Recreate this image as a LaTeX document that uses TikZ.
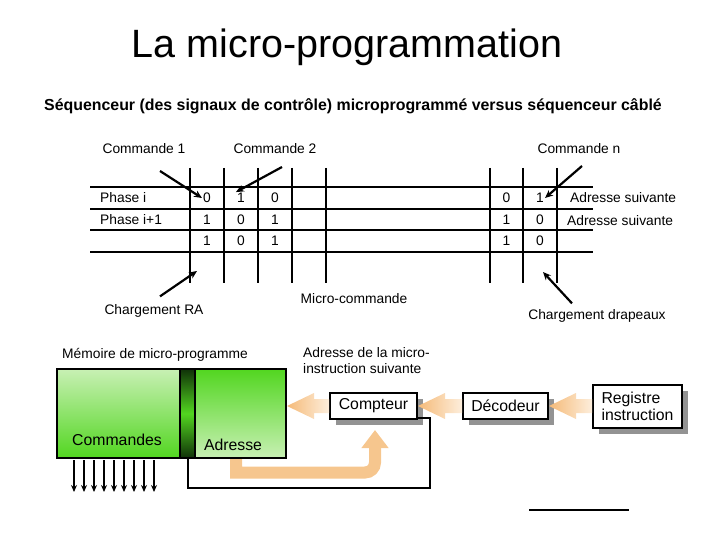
\documentclass[tikz,border=0pt]{standalone}
\usepackage{fontspec}
\setmainfont{Liberation Sans}
\usetikzlibrary{arrows.meta,calc,shadows}

\definecolor{palegreen}{RGB}{200,240,180}
\definecolor{brightgreen}{RGB}{82,214,32}
\definecolor{darkgreen}{RGB}{16,50,8}
\definecolor{arrowhead}{RGB}{245,186,120}
\definecolor{arrowtail}{RGB}{253,238,220}
\definecolor{loopcolor}{RGB}{246,198,142}

\begin{document}
\begin{tikzpicture}[x=1pt,y=-1pt,
	txt/.style={inner sep=1pt,font=\fontsize{13.8}{16}\selectfont},
	cell/.style={inner sep=1pt,font=\fontsize{13.8}{16}\selectfont},
	grid/.style={line width=2pt},
	ptr/.style={line width=2.2pt,-{Stealth[length=8pt,width=7pt]}},
	unitbox/.style={draw,line width=2pt,fill=white,font=\fontsize{15.8}{17}\selectfont,
		drop shadow={shadow xshift=6pt,shadow yshift=-6pt,fill=gray!85,opacity=1}},
	memblock/.style={draw,line width=2pt,minimum height=89pt,inner sep=0pt},
	bigtxt/.style={font=\fontsize{15.8}{18}\selectfont}]

	\useasboundingbox (0,0) rectangle (720,540);

	\node (title) at (347,47) {\fontsize{39.5}{44}\selectfont La micro-programmation};
	\node (subtitle) at (353,106) {\fontsize{15.9}{18}\selectfont\bfseries S\'equenceur (des signaux de contr\^ole) microprogramm\'e versus s\'equenceur c\^abl\'e};

	% table of micro-instructions
	\foreach \y in {187,209,230,252}
		\draw[grid] (90,\y) -- (593,\y);
	\foreach \x in {190,224,258,292,326,490,523,557}
		\draw[grid] (\x,168) -- (\x,283);

	\foreach \row/\y/\a/\b/\c/\m/\n in {1/198/0/1/0/0/1, 2/219.5/1/0/1/1/0, 3/241/1/0/1/1/0} {
		\node[cell] (c\row a) at (207,\y) {\a};
		\node[cell] (c\row b) at (241,\y) {\b};
		\node[cell] (c\row c) at (275,\y) {\c};
		\node[cell] (c\row m) at (506.5,\y) {\m};
		\node[cell] (c\row n) at (540,\y) {\n};
	}

	\node[txt,anchor=west] (phase1) at (99,198) {Phase i};
	\node[txt,anchor=west] (phase2) at (99,219.5) {Phase i+1};
	\node[txt,anchor=west] (next1) at (569,198) {Adresse suivante};
	\node[txt,anchor=west] (next2) at (566,221) {Adresse suivante};

	\node[txt] (cmd1) at (144,149) {Commande 1};
	\node[txt] (cmd2) at (275,149) {Commande 2};
	\node[txt] (cmdn) at (579,149) {Commande n};
	\coordinate (cmd1 tail) at (160,171);
	\coordinate (cmd2 tail) at (282,167);
	\coordinate (cmdn tail) at (582,166);
	\draw[ptr] (cmd1 tail) -- (c1a.west);
	\draw[ptr] (cmd2 tail) -- (c1b.north west);
	\draw[ptr] (cmdn tail) -- (c1n.east);

	\node[txt] (microcmd) at (354,299) {Micro-commande};
	\node[txt] (loadra) at (154,311) {Chargement RA};
	\node[txt] (loadflags) at (597,316) {Chargement drapeaux};
	\coordinate (ra tip) at (197,271);
	\coordinate (flags tip) at (543,272);
	\draw[ptr] ([xshift=6pt,yshift=7pt]loadra.north) -- (ra tip);
	\draw[ptr] ([xshift=-25pt,yshift=5pt]loadflags.north) -- (flags tip);

	% micro-program memory
	\node[txt,anchor=west] (memlabel) at (61,355) {M\'emoire de micro-programme};
	\node[txt,anchor=west,align=left] (nextaddr) at (302,361) {Adresse de la micro-\\instruction suivante};

	\node[memblock,minimum width=123pt,top color=palegreen,bottom color=brightgreen] (cmds) at (118.5,413.5) {};
	\node[memblock,minimum width=15pt,top color=darkgreen,bottom color=darkgreen,middle color=brightgreen] (stripe) at (187.5,413.5) {};
	\node[memblock,minimum width=91pt,top color=brightgreen,bottom color=palegreen] (adr) at (240.5,413.5) {};
	\node[bigtxt] (cmdtxt) at (117,440) {Commandes};
	\node[bigtxt] (adrtxt) at (233,445) {Adresse};

	\foreach \x in {74,84,...,154}
		\draw[line width=1.6pt,-{Stealth[length=7pt,width=6pt]}] (\x,460) -- (\x,492);

	% sequencer
	\node[unitbox,minimum width=87pt,minimum height=26pt] (cpt) at (373.5,406) {Compteur};
	\node[unitbox,minimum width=85pt,minimum height=26pt] (dec) at (505.5,406) {D\'ecodeur};
	\node[unitbox,minimum width=89pt,minimum height=43pt,align=left] (reg) at (637.5,406.5) {Registre\\instruction};

	\coordinate (wire corner) at (430,488);
	\draw[line width=2pt] (stripe.south) |- (wire corner) |- ([yshift=2pt]cpt.south east);

	\shade[left color=arrowhead,right color=arrowtail]
		(adr.east |- cpt.west) -- ++(27,-13) -- ++(0,6) -- ($(cpt.west)+(0,-7)$)
		-- ($(cpt.west)+(0,7)$) -- ($(adr.east |- cpt.west)+(27,7)$) -- ++(0,6) -- cycle;
	\shade[left color=arrowhead,right color=arrowtail]
		(cpt.east) -- ++(27,-13) -- ++(0,6) -- ($(dec.west)+(0,-7)$)
		-- ($(dec.west)+(0,7)$) -- ($(cpt.east)+(27,7)$) -- ++(0,6) -- cycle;
	\shade[left color=arrowhead,right color=arrowtail]
		(dec.east) -- ++(27,-13) -- ++(0,6) -- ($(reg.west |- dec.east)+(0,-7)$)
		-- ($(reg.west |- dec.east)+(0,7)$) -- ($(dec.east)+(27,7)$) -- ++(0,6) -- cycle;

	\coordinate (loop tip) at (375,430);
	\draw[loopcolor,line width=12pt,-{Triangle[length=18pt,width=26pt]}]
		([xshift=-4.5pt]adr.south) -- ++(0,13.5) [rounded corners=10pt] -- (loop tip |- 0,472.5) -- (loop tip);

	\draw[line width=2pt] (529,510) -- (629,510);

\end{tikzpicture}
\end{document}
